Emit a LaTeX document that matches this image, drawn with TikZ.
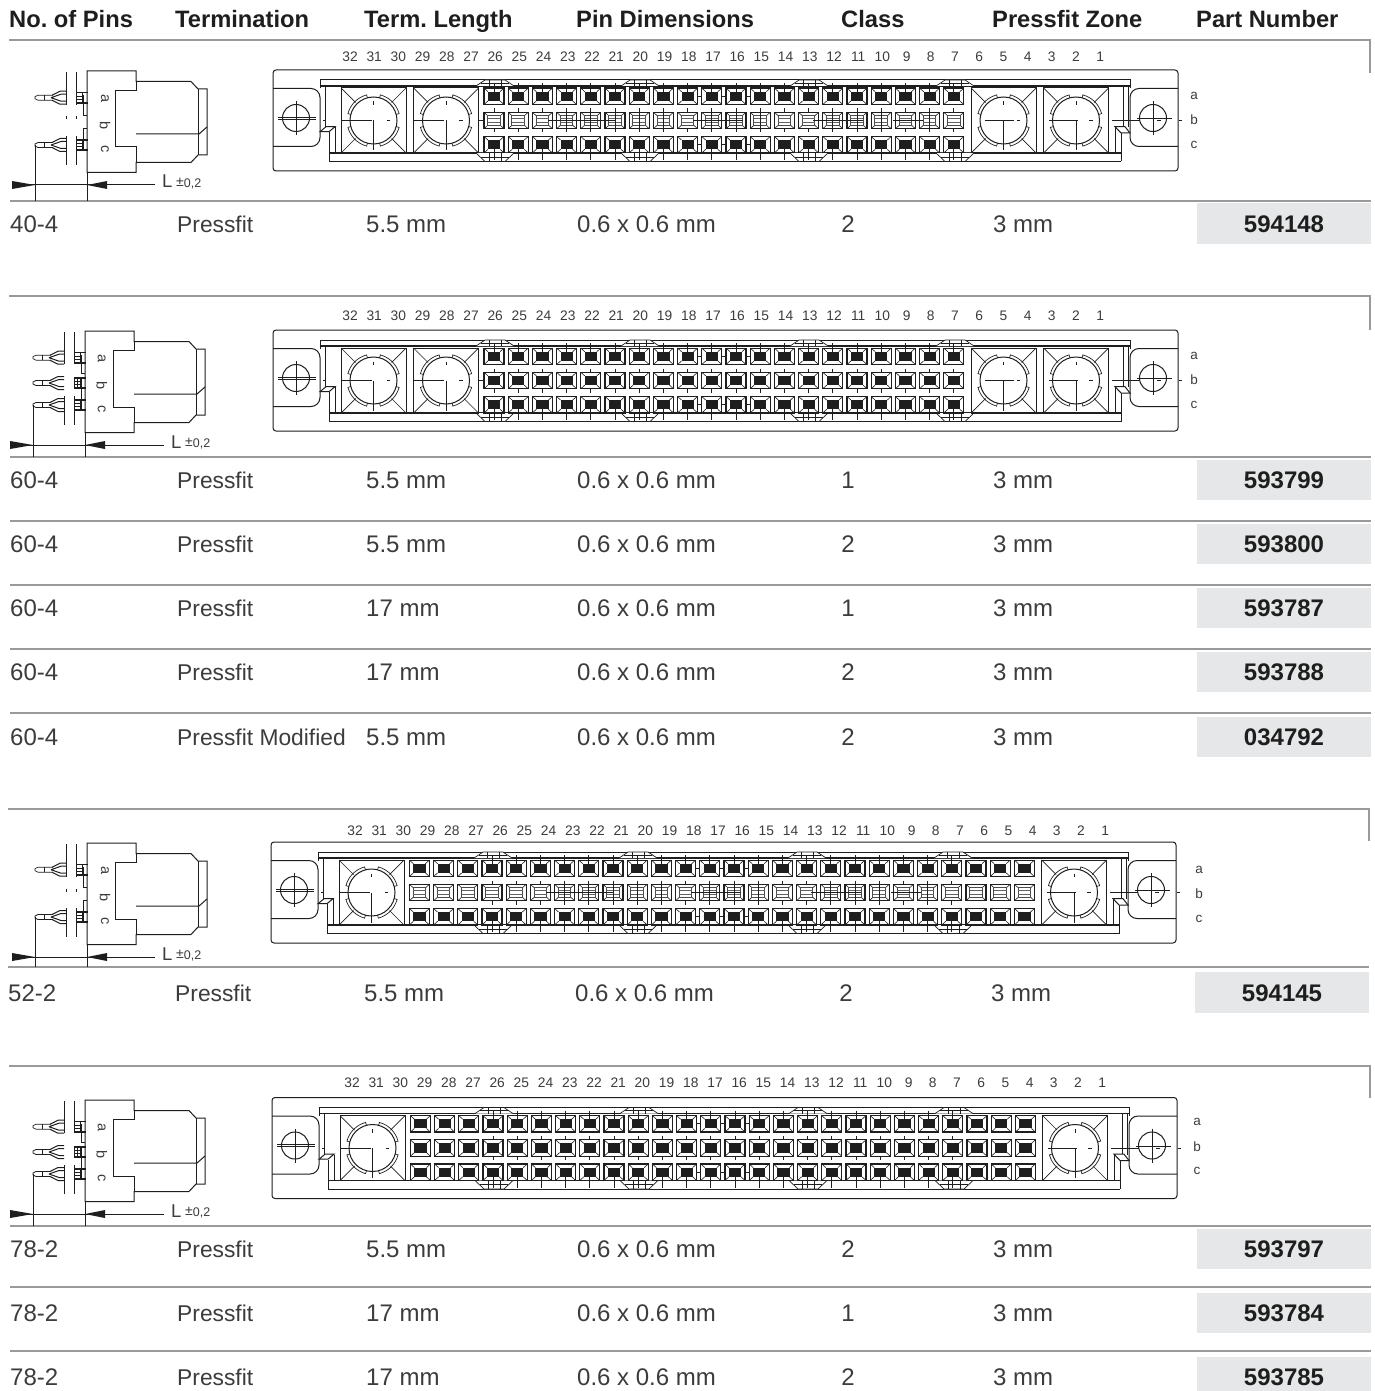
\documentclass[tikz,border=0pt]{standalone}
\usepackage{fontspec}
\setmainfont{Liberation Sans}
\frenchspacing
\definecolor{txt}{HTML}{3C3C3C}
\definecolor{rulec}{HTML}{9A9A9A}
\definecolor{partbg}{HTML}{E6E7E8}
\definecolor{ink}{HTML}{1E1E1E}
\tikzset{
  rowtext/.style={anchor=base west,inner sep=0pt,text=txt,font=\fontsize{24}{26}\selectfont},
  termtext/.style={anchor=base west,inner sep=0pt,text=txt,font=\fontsize{22.8}{25}\selectfont},
  classtext/.style={anchor=base,inner sep=0pt,text=txt,font=\fontsize{24}{26}\selectfont},
  parttext/.style={anchor=base,inner sep=0pt,text=ink,font=\fontsize{24}{26}\selectfont\bfseries},
  headtext/.style={anchor=base west,inner sep=0pt,text=ink,font=\fontsize{23.7}{25}\selectfont\bfseries},
  numtext/.style={anchor=center,inner sep=0pt,text=txt,font=\fontsize{13.8}{15}\selectfont},
  abctext/.style={anchor=center,inner sep=0pt,text=txt,font=\fontsize{13.5}{14}\selectfont},
  sidetext/.style={anchor=center,inner sep=0pt,text=txt,rotate=-90,font=\fontsize{14.5}{15}\selectfont},
  ruleline/.style={draw=rulec,line width=1.3pt},
  sep/.style={draw=rulec,line width=1.1pt},
  ln/.style={draw=ink,line width=1pt},
  thinln/.style={draw=ink,line width=.7pt},
}
\newcommand{\pinsv}{}
% one row of the table: id, dx, y centre, box top, box bottom, termination, length, class, part
\newcommand{\tablerow}[9]{%
  \fill[partbg] (1197+#2,#4) rectangle (1371+#2,#5);
  \node[rowtext] (pins#1) at (10+#2,#3+8) {\pinsv};
  \node[termtext] (term#1) at (177+#2,#3+8) {#6};
  \node[rowtext] (len#1) at (366+#2,#3+8) {#7};
  \node[rowtext] (dim#1) at (577+#2,#3+8) {0.6 x 0.6 mm};
  \node[classtext] (class#1) at (848+#2,#3+8) {#8};
  \node[rowtext] (zone#1) at (993+#2,#3+8) {3 mm};
  \node[parttext] (part#1) at (1284+#2,#3+8) {#9};
}
% centre x, left end and right end of the centre line
\newcommand{\bigcontact}[3]{%
  \begin{scope}[shift={(#1,50.5)}]
    \draw[ln] (-32.5,-32.5) rectangle (32.5,32.5);
    \draw[thinln] (-32.5,-32.5)--(-18,-18) (32.5,-32.5)--(18,-18) (-32.5,32.5)--(-18,18) (32.5,32.5)--(18,18);
    \draw[ln,fill=white] (0,0) circle (23.5);
    \foreach \a/\b in {15/75,105/165,195/255,285/345}{
      \draw[thinln] (\a:23.5) -- (\a:26.5) arc (\a:\b:26.5) -- (\b:23.5);
    }
    \draw[ln] (#2,0)--(#3,0) (0,0)--(0,30);
    \draw[thinln] (0,-19)--(0,-15.5) (13,0)--(16.5,0);
  \end{scope}
}
\newcommand{\pincell}[3]{% x, y, open?
  \begin{scope}[shift={(#1,#2)}]
    \draw[draw=ink,line width=1.2pt,fill=white] (-10,-8.2) rectangle (10,8.2);
    \draw[draw=ink,line width=.6pt] (-10,-8.2)--(-6,-4.6) (10,-8.2)--(6,-4.6) (-10,8.2)--(-6,4.6) (10,8.2)--(6,4.6);
    \ifnum#3=1
      \draw[draw=ink!80,line width=1pt,fill=white] (-6.3,-4.6) rectangle (6.3,4.6);
      \draw[draw=ink!70,line width=.7pt] (-6.3,-2.3)--(6.3,-2.3) (-6.3,2.3)--(6.3,2.3);
    \fi
  \end{scope}
}
% id, ox, oy, label 32 x, open row b (1/0), mode (2 = two big contacts each side, 1 = one), label y
\newcommand{\connector}[7]{%
  \foreach \n in {1,...,32}{
    \pgfmathsetmacro{\lx}{#4+(32-\n)*24.2}
    \node[numtext] (lab#1n\n) at (\lx,#7) {\n};
  }
  \begin{scope}[shift={(#2,#3)}]
    \draw[ln,rounded corners=3pt] (0,0) rectangle (905,101);
    \draw[ln,rounded corners=9pt] (0,18.5)--(47,18.5)--(47,76.5)--(0,76.5);
    \draw[ln,rounded corners=9pt] (905,18.5)--(857,18.5)--(857,76.5)--(905,76.5);
    \draw[ln] (47,18.5)--(47,10)--(857,10)--(857,18.5);
    \draw[draw=ink,line width=1.6pt] (47,16)--(857,16);
    \draw[draw=ink,line width=1.6pt] (56,83)--(848,83);
    \draw[ln] (56,91.5)--(848,91.5) (56,91.5)--(56,62) (848,91.5)--(848,63);
    \draw[ln] (52.7,16)--(52.7,56.7) (62,57)--(62,83) (850,16)--(850,57) (855,16)--(855,57) (842,57)--(842,83);
    \draw[ln,fill=white] (47,61.7)--(53,56.7)--(62,56.7)--(56,61.7)--cycle;
    \draw[ln,fill=white] (857,63)--(852,56.7)--(842,56.7)--(848,63)--cycle;
    \foreach \cx in {222,367,536,682}{
      \draw[thinln,fill=white] (\cx-19,16)--(\cx-10,10)--(\cx+10,10)--(\cx+19,16);
      \draw[thinln,fill=white] (\cx-19,83)--(\cx-10,91.5)--(\cx+10,91.5)--(\cx+19,83);
      \draw[thinln] (\cx-6,10)--(\cx-6,16) (\cx+6,10)--(\cx+6,16) (\cx-6,83)--(\cx-6,91.5) (\cx+6,83)--(\cx+6,91.5) (\cx-14,87)--(\cx+14,87) (\cx-14,13)--(\cx+14,13);
    }
    % fixing holes
    \draw[ln] (23,48) circle (13.5);
    \draw[ln] (5,47.3)--(43,47.3) (5,49.3)--(43,49.3) (23,31)--(23,65);
    \draw[ln] (880,48) circle (13.5);
    \draw[ln] (864,48.5)--(899,48.5) (880,31)--(880,65) (839,50.5)--(867,50.5) (905.5,50.5)--(909,50.5);
    \draw[thinln] (884,50.5)--(888,50.5) (50,50.5)--(53,50.5);
    \ifnum#6=2
      \bigcontact{100.5}{-32}{-2}
      \bigcontact{173}{-32}{-2}
      \bigcontact{730.5}{-19}{10}
      \bigcontact{803}{-27}{2}
      \draw[ln] (205.5,50.5)--(211,50.5);
      \def\first{221}\def\ncols{19}
    \else
      \bigcontact{100.5}{-32}{-2}
      \bigcontact{803}{-27}{2}
      \def\first{148.4}\def\ncols{25}
    \fi
    \foreach \hy in {26.3,74.7}{
      \draw[thinln] (423,\hy)--(479,\hy);
    }
    \foreach \i in {0,...,\ncols}{
      \pgfmathsetmacro{\cxx}{\first+\i*24.2}
      \pincell{\cxx}{26.3}{0}
      \pincell{\cxx}{50.5}{#5}
      \pincell{\cxx}{74.7}{0}
    }
    % drawing axes on the columns 26 to 7
    \foreach \i in {0,...,19}{
      \pgfmathsetmacro{\cxx}{221+\i*24.2}
      \draw[thinln] (\cxx,13)--(\cxx,26.3) (\cxx,38.5)--(\cxx,42) (\cxx,59)--(\cxx,62.5) (\cxx,74.7)--(\cxx,90);
    }
    \ifnum#5=1
      \foreach \i in {3,4,5,6,7,9,10,11,14,15,16,18}{
        \pgfmathsetmacro{\cxx}{221+\i*24.2}
        \draw[thinln] (\cxx,42)--(\cxx,59);
      }
      \foreach \sx/\ex in {275/342,420/470,540/590,620/650}{
        \draw[thinln] (\sx,50.5)--(\ex,50.5);
      }
    \fi
    \foreach \i in {0,...,\ncols}{
      \pgfmathsetmacro{\cxx}{\first+\i*24.2}
      \fill[ink] (\cxx-6.1,21.7) rectangle (\cxx+6.1,30.9);
      \fill[ink] (\cxx-6.1,70.1) rectangle (\cxx+6.1,79.3);
      \ifnum#5=0 \fill[ink] (\cxx-6.1,45.9) rectangle (\cxx+6.1,55.1); \fi
    }
  \end{scope}
}
\newcommand{\pinview}[1]{%
  \begin{scope}[yshift=-#1pt]
    \draw[thinln] (-34,-2.5)--(-49,-2.5)--(-52,-1)--(-52,1)--(-49,2.5)--(-34,2.5);
    \draw[thinln] (-43,-2.5)--(-43,2.5);
    \draw[ln] (-35,-2.5)--(-27,-6.5)--(-21,-6.5) (-35,2.5)--(-27,6.5)--(-21,6.5) (-36,0)--(-26,-3.5)--(-21,-3.5) (-36,0)--(-26,3.5)--(-21,3.5);
    \draw[draw=ink,line width=1.7pt] (-11,-5.3)--(1,-5.3) (-11,5.3)--(1,5.3);
    \draw[thinln] (-11,-1.5)--(-5,-1.5) (-11,1.5)--(-5,1.5);
    \draw[ln] (-11,-5.3)--(-11,5.3) (-5,-5.3)--(-5,5.3);
  \end{scope}
}
% id, ox, top, three rows?, L x, end of extension lines
\newcommand{\sideview}[6]{%
  \begin{scope}[shift={(#2,#3)}]
    \draw[ln] (0,0)--(49,0)--(49,10.5)--(104,10.5)--(111,18)--(120,18)--(120,84)--(111,84)--(104,91.5)--(49,91.5)--(49,101.5)--(0,101.5)--cycle;
    \draw[ln] (49,10.5)--(49,19.5)--(28,19.5)--(28,76)--(49,76)--(49,91.5);
    \draw[ln] (49,63)--(112,63)--(120,56);
    \draw[ln] (111,18)--(111,84);
    \ifnum#4=1
      \draw[ln] (-21,1)--(-21,33) (-11,1)--(-11,33) (-21,65)--(-21,94) (-11,65)--(-11,94);
      \pinview{26.7}\pinview{52}\pinview{74}
      \draw[thinln] (-4,24)--(-4,42)--(0,42) (-4,58)--(-4,78)--(0,78);
      \draw[ln] (-7.5,47)--(-7.5,57) (-3.5,47)--(-3.5,57);
      \node[sidetext] (sa#1) at (16.7,28) {a};
      \node[sidetext] (sb#1) at (16.7,55) {b};
      \node[sidetext] (sc#1) at (16.7,78) {c};
    \else
      \draw[ln] (-21,1)--(-21,34) (-11,1)--(-11,34) (-21,65)--(-21,94) (-11,65)--(-11,94);
      \draw[thinln] (-21,45.5)--(-21,48.5) (-11,45.5)--(-11,48.5);
      \pinview{26.7}\pinview{74}
      \draw[thinln] (-4,24)--(-4,44)--(0,44) (-4,79)--(-4,57)--(0,57);
      \node[sidetext] (sa#1) at (18,28) {a};
      \node[sidetext] (sb#1) at (18,55) {b};
      \node[sidetext] (sc#1) at (18,78) {c};
    \fi
    \coordinate (dimA#1) at (-52,114);
    \coordinate (dimB#1) at (0,114);
    \coordinate (dimE#1) at (#5-7,114);
    \draw[ln] (-52,74)--(-52,#6);
    \draw[thinln] (0,101.5)--(0,#6);
    \draw[ln] (dimA#1) ++(-23,0) -- (dimE#1);
    \fill[ink] (dimA#1) -- ++(-23,-4) -- ++(0,8) --cycle;
    \fill[ink] (dimB#1) -- ++(20,-4) -- ++(0,8) --cycle;
    \node[anchor=base west,inner sep=0pt,text=txt,font=\fontsize{18.5}{20}\selectfont] (ell#1) at (#5,117) {L};
    \node[anchor=base west,inner sep=0pt,text=txt,font=\fontsize{12.5}{14}\selectfont] (tol#1) at (#5+14,116.5) {\raisebox{1.5pt}{\fontsize{14}{14}\selectfont ±}0,2};
  \end{scope}
}
\newcommand{\abclabels}[3]{%
  \node[abctext] (a#1) at (#2,#3) {a};
  \node[abctext] (b#1) at (#2,#3+24.5) {b};
  \node[abctext] (c#1) at (#2,#3+49) {c};
}
\begin{document}
\begin{tikzpicture}[x=1pt,y=-1pt]
\useasboundingbox (0,0) rectangle (1374,1391);
\fill[white] (0,0) rectangle (1374,1391);
% header
\node[headtext] (h1) at (9,28) {No. of Pins};
\node[headtext] (h2) at (175,28) {Termination};
\node[headtext] (h3) at (364,28) {Term. Length};
\node[headtext] (h4) at (576,28) {Pin Dimensions};
\node[headtext] (h5) at (841,28) {Class};
\node[headtext] (h6) at (992,28) {Pressfit Zone};
\node[headtext] (h7) at (1196,28) {Part Number};
% block 1
\draw[ruleline] (9,40)--(1370,40)--(1370,73);
\draw[sep] (10,201)--(1371,201);
\connector{A}{273}{70}{350}{1}{2}{57}
\abclabels{A}{1194}{95.5}
\sideview{A}{87}{71}{0}{75}{130}
\renewcommand{\pinsv}{40-4}
\tablerow{A1}{0}{224}{203}{244}{Pressfit}{5.5 mm}{2}{594148}
% block 2
\draw[ruleline] (9,296)--(1370,296)--(1370,330);
\draw[sep] (10,457)--(1371,457);
\connector{B}{273}{330}{350}{0}{2}{316}
\abclabels{B}{1194}{355.5}
\sideview{B}{85}{331}{1}{86}{126}
\renewcommand{\pinsv}{60-4}
\tablerow{B1}{0}{480}{460}{500}{Pressfit}{5.5 mm}{1}{593799}
\draw[sep] (10,521)--(1371,521);
\tablerow{B2}{0}{544}{524}{564}{Pressfit}{5.5 mm}{2}{593800}
\draw[sep] (10,585)--(1371,585);
\tablerow{B3}{0}{608}{588}{628}{Pressfit}{17 mm}{1}{593787}
\draw[sep] (10,649)--(1371,649);
\tablerow{B4}{0}{672}{652}{692}{Pressfit}{17 mm}{2}{593788}
\draw[sep] (10,713)--(1371,713);
\tablerow{B5}{0}{737}{717}{757}{Pressfit Modified}{5.5 mm}{2}{034792}
% block 3
\draw[ruleline] (8,809)--(1369,809)--(1369,841);
\draw[sep] (8,967)--(1369,967);
\connector{C}{271}{842}{355}{1}{1}{831}
\abclabels{C}{1199}{869.5}
\sideview{C}{87}{843}{0}{75}{124}
\renewcommand{\pinsv}{52-2}
\tablerow{C1}{-2}{993}{972}{1013}{Pressfit}{5.5 mm}{2}{594145}
% block 4
\draw[ruleline] (9,1066)--(1370,1066)--(1370,1098);
\draw[sep] (10,1226)--(1371,1226);
\connector{D}{272}{1097.5}{352}{0}{1}{1083}
\abclabels{D}{1197}{1122}
\sideview{D}{85}{1100}{1}{86}{126}
\renewcommand{\pinsv}{78-2}
\tablerow{D1}{0}{1249}{1229}{1269}{Pressfit}{5.5 mm}{2}{593797}
\draw[sep] (10,1287)--(1371,1287);
\tablerow{D2}{0}{1313}{1293}{1333}{Pressfit}{17 mm}{1}{593784}
\draw[sep] (10,1351)--(1371,1351);
\tablerow{D3}{0}{1377}{1357}{1391}{Pressfit}{17 mm}{2}{593785}
\end{tikzpicture}
\end{document}
